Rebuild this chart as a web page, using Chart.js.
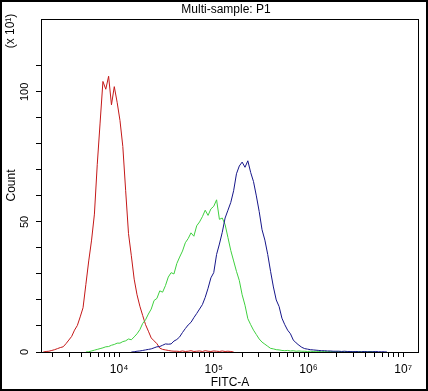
<!DOCTYPE html>
<html>
<head>
<meta charset="utf-8">
<script src="https://cdn.jsdelivr.net/npm/chart.js@4.4.1/dist/chart.umd.min.js"></script>
<style>
  html, body { margin: 0; padding: 0; background: #fff; }
  #wrap { width: 428px; height: 391px; }
</style>
</head>
<body>
<div id="wrap"><canvas id="fcs" width="428" height="391"></canvas></div>
<script>
// ==========================================
// Data: FITC-A channels (log10) and counts (x10) per sample
// ==========================================
const fitcLog = [
  3.20,3.23,3.26,3.29,3.32,3.35,3.38,3.41,3.44,3.47,
  3.50,3.53,3.56,3.59,3.62,3.65,3.68,3.71,3.74,3.77,
  3.80,3.83,3.86,3.89,3.92,3.95,3.98,4.01,4.04,4.07,
  4.10,4.13,4.16,4.19,4.22,4.25,4.28,4.31,4.34,4.37,
  4.40,4.43,4.46,4.49,4.52,4.55,4.58,4.61,4.64,4.67,
  4.70,4.73,4.76,4.79,4.82,4.85,4.88,4.91,4.94,4.97,
  5.00,5.03,5.06,5.09,5.12,5.15,5.18,5.21,5.24,5.27,
  5.30,5.33,5.36,5.39,5.42,5.45,5.48,5.51,5.54,5.57,
  5.60,5.63,5.66,5.69,5.72,5.75,5.78,5.81,5.84,5.87,
  5.90,5.93,5.96,5.99,6.02,6.05,6.08,6.11,6.14,6.17,
  6.20,6.23,6.26,6.29,6.32,6.35,6.38,6.41,6.44,6.47,
  6.50,6.53,6.56,6.59,6.62,6.65,6.68,6.71,6.74,6.77,
  6.80,6.83,6.86,6.89,6.92,6.95,6.98,7.01,7.04,7.07,
  7.10,7.13,7.16
];

const N = null;

const redCounts = [
  0,0.2,0.3,0.6,0.9,1.3,1.7,2.0,3.2,4.6,
  6.0,8.4,10.2,13.5,17.0,26,35,43,53,72,
  88,104,101,106,95,102,96,89,79,62,
  45.5,37,28,22,17.6,14,10.5,8,5.4,4.3,
  3.2,1.5,1.0,0.8,0.6,0.4,0.3,0.3,0.2,0.4,
  0.2,0.3,0.5,0.2,0.3,0.4,0.2,0.5,0.3,0.2,
  0.4,0.3,0.2,0.4,0.2,0.3,0.2,0,N,N,
  N,N,N,N,N,N,N,N,N,N,
  N,N,N,N,N,N,N,N,N,N,
  N,N,N,N,N,N,N,N,N,N,
  N,N,N,N,N,N,N,N,N,N,
  N,N,N,N,N,N,N,N,N,N,
  N,N,N,N,N,N,N,N,N,N,
  N,N,N
];

const greenCounts = [
  N,N,N,N,N,N,N,N,N,N,
  N,N,N,N,N,0,0.1,0.4,0.7,1.0,
  1.3,1.6,2.0,2.1,2.6,2.9,3.4,3.4,4.0,4.3,
  5.0,4.7,5.8,7.0,8.6,11,12.4,14.6,16.5,19.8,
  20.6,23.5,23.0,25.5,28.8,30.5,30.0,34,36.5,38.8,
  42,43.6,45.8,44.5,48.5,50,52,54.5,52.5,55,
  56,58.5,51,51.5,49,44,39,35,31,27.5,
  22,18,12.8,10.5,8.4,6.7,5.0,3.8,3.0,2.2,
  1.4,1.2,0.9,0.8,0.6,0.5,0.6,0.4,0.5,0.3,
  0.4,0.3,0.3,0.2,0.3,0.2,0.3,0.2,0.1,0.2,
  0.1,0.2,0.1,0.1,0.2,0.1,0.1,0.2,0.1,0.1,
  0.1,0.2,0.1,0.1,0.1,0.2,0.1,0,N,N,
  N,N,N,N,N,N,N,N,N,N,
  N,N,N
];

const blueCounts = [
  N,N,N,N,N,N,N,N,N,N,
  N,N,N,N,N,N,N,N,N,N,
  N,N,N,N,N,N,N,N,N,N,
  N,0,0.1,0.3,0.4,0.6,0.8,1.0,1.2,1.6,
  2.0,2.1,2.6,3.1,3.0,3.1,4.2,4.8,5.8,7.5,
  9.0,10.4,11.4,13.2,14.8,16.5,18.2,21,24.5,28.5,
  30.5,37.5,41.5,46,51.5,54.5,57.5,62,68.5,71.5,
  73,71,73.5,69,65.5,60,54,47,43,37.5,
  31,25,20,17.5,13,10.5,8.4,7.0,4.6,3.5,
  2.6,1.8,1.3,1.1,0.9,0.8,0.7,0.6,0.5,0.5,
  0.4,0.4,0.3,0.3,0.3,0.2,0.3,0.2,0.2,0.1,
  0.2,0.1,0.1,0.2,0.1,0.1,0.1,0.2,0.1,0.1,
  0.1,0,N,N,N,N,N,N,N,N,
  N,N,N
];

const sampleNames = ['Sample 1', 'Sample 2', 'Sample 3'];
const sampleColors = ['#c41818', '#3fd03f', '#16168a'];

const FONT = '"Liberation Sans", Arial, sans-serif';
const SUP = { 4: '\u2074', 5: '\u2075', 6: '\u2076', 7: '\u2077' };

const toPoints = counts => fitcLog.map((e, i) => ({ x: Math.pow(10, e), y: counts[i] }));

// ==========================================
// Plugin: frame, plot box, titles
// ==========================================
const boxPlugin = {
  id: 'boxPlugin',
  beforeDatasetsDraw(chart) {
    const { ctx, chartArea: a } = chart;
    ctx.save();
    ctx.strokeStyle = '#000';
    ctx.lineWidth = 1;
    const l = Math.round(a.left) + 0.5, t = Math.round(a.top) + 0.5;
    const r = Math.round(a.right) - 0.5, b = Math.round(a.bottom) + 0.5;
    ctx.strokeRect(l, t, r - l, b - t);
    ctx.restore();
  },
  afterDraw(chart) {
    const { ctx, width, height } = chart;
    ctx.save();
    ctx.strokeStyle = '#000';
    ctx.lineWidth = 2;
    ctx.strokeRect(1, 1, width - 2, height - 2);

    ctx.fillStyle = '#000';
    ctx.font = '12px ' + FONT;
    ctx.textAlign = 'center';
    ctx.textBaseline = 'middle';
    ctx.fillText('Multi-sample: P1', 226, 10);

    ctx.translate(11, 31);
    ctx.rotate(-Math.PI / 2);
    ctx.fillText('(x 10\u00b9)', 0, 0);
    ctx.restore();
  }
};

const isWholeStep = v => {
  const m = v / Math.pow(10, Math.floor(Math.log10(v) + 1e-9));
  return Math.abs(m - Math.round(m)) < 1e-6;
};

new Chart(document.getElementById('fcs'), {
  type: 'line',
  data: {
    datasets: [blueCounts, greenCounts, redCounts].map((c, k) => ({
      label: sampleNames[2 - k],
      data: toPoints(c),
      borderColor: sampleColors[2 - k],
      borderWidth: 1,
      pointRadius: 0,
      tension: 0,
      fill: false,
      spanGaps: false
    }))
  },
  options: {
    responsive: false,
    animation: false,
    devicePixelRatio: 1,
    layout: { padding: { top: 19, right: 9, left: 0, bottom: 0 } },
    plugins: { legend: { display: false }, tooltip: { enabled: false }, title: { display: false } },
    scales: {
      x: {
        type: 'logarithmic',
        min: 1500,
        max: 14700000,
        afterBuildTicks: s => { s.ticks = s.ticks.filter(t => isWholeStep(t.value)); },
        afterFit: s => { s.height = 39; },
        grid: { display: true, drawOnChartArea: false, drawTicks: true, tickLength: 5, tickColor: '#000', color: '#000' },
        border: { display: false },
        ticks: {
          autoSkip: false, maxRotation: 0, minRotation: 0, padding: 5, color: '#000',
          font: { size: 12, family: FONT },
          callback: v => {
            const e = Math.round(Math.log10(v));
            return (Math.abs(v - Math.pow(10, e)) < 1e-6 * v && SUP[e]) ? '10' + SUP[e] : '';
          }
        },
        title: { display: true, text: 'FITC-A', color: '#000', font: { size: 12, family: FONT }, padding: { top: 0, bottom: 1 } }
      },
      y: {
        min: 0,
        max: 128,
        afterBuildTicks: s => { s.ticks = s.ticks.filter(t => t.value % 10 === 0); },
        afterFit: s => { s.width = 41; },
        grid: { display: true, drawOnChartArea: false, drawTicks: true, tickLength: 5, tickColor: '#000', color: '#000' },
        border: { display: false },
        ticks: {
          stepSize: 10, minRotation: 90, maxRotation: 90, crossAlign: 'center', padding: 2, color: '#000',
          font: { size: 11, family: FONT },
          callback: v => (v % 50 === 0 ? String(v) : '')
        },
        title: { display: true, text: 'Count', color: '#000', font: { size: 12, family: FONT }, padding: { top: 4, bottom: 0 } }
      }
    }
  },
  plugins: [boxPlugin]
});
</script>
</body>
</html>
